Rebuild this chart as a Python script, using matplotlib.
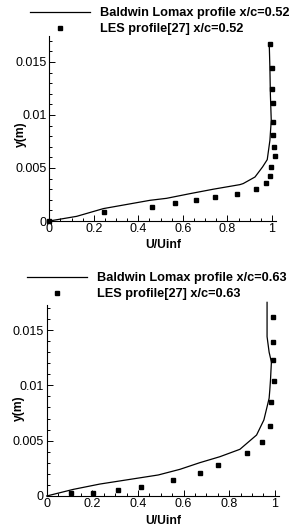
import matplotlib
matplotlib.use("Agg")
import matplotlib.pyplot as plt
from matplotlib.ticker import MultipleLocator, FixedLocator

plt.rcParams['font.family'] = ['Liberation Sans', 'DejaVu Sans']

# ---- Data: x/c = 0.52 ----
bl52_u = [0.0, 0.123, 0.243, 0.452, 0.527, 0.632, 0.737, 0.856, 0.871, 0.924, 0.958,
          0.979, 0.991, 0.997, 0.993, 0.991, 0.988]
bl52_y = [0.0, 0.00044, 0.00117, 0.00195, 0.00214, 0.00258, 0.00300, 0.00343, 0.00353,
          0.00415, 0.0051, 0.00579, 0.00761, 0.0095, 0.0120, 0.0144, 0.0167]
les52_u = [0.0, 0.246, 0.461, 0.563, 0.659, 0.745, 0.841, 0.928, 0.973, 0.991, 0.997,
           1.013, 1.009, 1.003, 1.003, 1.003, 0.999, 1.0, 0.99]
les52_y = [0.0, 0.00085, 0.00129, 0.0017, 0.00195, 0.00224, 0.00258, 0.00299, 0.00356,
           0.00425, 0.00507, 0.00613, 0.00695, 0.00809, 0.00938, 0.01113, 0.01242, 0.0144, 0.0167]

# ---- Data: x/c = 0.63 ----
bl63_u = [0.0, 0.117, 0.233, 0.489, 0.584, 0.671, 0.759, 0.847, 0.869, 0.920, 0.952,
          0.975, 0.978, 0.981, 0.985, 0.975, 0.966, 0.966]
bl63_y = [0.0, 0.0006, 0.00108, 0.0019, 0.00241, 0.00301, 0.00355, 0.00422, 0.00461,
          0.00551, 0.00687, 0.00883, 0.00958, 0.01048, 0.0121, 0.01300, 0.0144, 0.0175]
les63_u = [0.105, 0.201, 0.311, 0.412, 0.552, 0.671, 0.750, 0.876, 0.943, 0.978, 0.985,
           0.996, 0.99, 0.99, 0.99]
les63_y = [0.00024, 0.0003, 0.00054, 0.00084, 0.00145, 0.0021, 0.00283, 0.00391, 0.00488,
           0.00633, 0.00849, 0.01039, 0.01229, 0.01392, 0.01615]

xticks = [0, 0.2, 0.4, 0.6, 0.8, 1]
xticklabels = ['0', '0.2', '0.4', '0.6', '0.8', '1']
yticks = [0, 0.005, 0.01, 0.015]
yticklabels = ['0', '0.005', '0.01', '0.015']

W, H = 299, 529
fig = plt.figure(figsize=(W / 100, H / 100), dpi=100)

def px_box(l, r, t, b):
    return [l / W, 1 - b / H, (r - l) / W, (b - t) / H]

panels = [
    dict(box=px_box(49.3, 275.7, 36, 221), bl=(bl52_u, bl52_y), les=(les52_u, les52_y),
         lab='0.52', ylim=0.01745, leg=(30, 7), ylab=(21, 134), xlab=(163, 245)),
    dict(box=px_box(46.7, 278.7, 305, 496), bl=(bl63_u, bl63_y), les=(les63_u, les63_y),
         lab='0.63', ylim=0.01726, leg=(26.7, 272), ylab=(19, 408), xlab=(163, 521)),
]

LFS = 9.2
em = LFS * 100 / 72

for p in panels:
    ax = fig.add_axes(p['box'])
    ln, = ax.plot(p['bl'][0], p['bl'][1], color='black', lw=0.9, clip_on=False)
    sc, = ax.plot(p['les'][0], p['les'][1], ls='none', marker='s', ms=2.6,
                  color='black', clip_on=False)
    ax.set_xlim(0, 1.017)
    ax.set_ylim(0, p['ylim'])
    for s in ['top', 'right']:
        ax.spines[s].set_visible(False)
    for s in ['left', 'bottom']:
        ax.spines[s].set_linewidth(0.8)
    ax.xaxis.set_major_locator(FixedLocator(xticks))
    ax.set_xticklabels(xticklabels)
    ax.xaxis.set_minor_locator(MultipleLocator(0.05))
    ax.yaxis.set_major_locator(FixedLocator(yticks))
    ax.set_yticklabels(yticklabels)
    ax.yaxis.set_minor_locator(MultipleLocator(0.001))
    ax.tick_params(which='both', direction='in', width=0.7, labelsize=9, pad=2)
    ax.tick_params(which='major', length=4.5)
    ax.tick_params(which='minor', length=2.5)
    ax.tick_params(axis='x', pad=1.5)
    lab = p['lab']
    ax.legend([ln, sc], ['Baldwin Lomax profile x/c=' + lab, 'LES profile[27] x/c=' + lab],
              loc='upper left', bbox_to_anchor=(p['leg'][0] / W, 1 - p['leg'][1] / H),
              bbox_transform=fig.transFigure, frameon=False, borderpad=0,
              borderaxespad=0, handlelength=60 / em, handletextpad=10 / em,
              labelspacing=0.35, prop=dict(size=LFS, weight='bold'), markerscale=1.0)
    fig.text(p['ylab'][0] / W, 1 - p['ylab'][1] / H, 'y(m)', rotation=90,
             fontsize=8.7, fontweight='bold', ha='center', va='center')
    fig.text(p['xlab'][0] / W, 1 - p['xlab'][1] / H, 'U/Uinf',
             fontsize=8.7, fontweight='bold', ha='center', va='center')

fig.savefig('out.png', dpi=100)
